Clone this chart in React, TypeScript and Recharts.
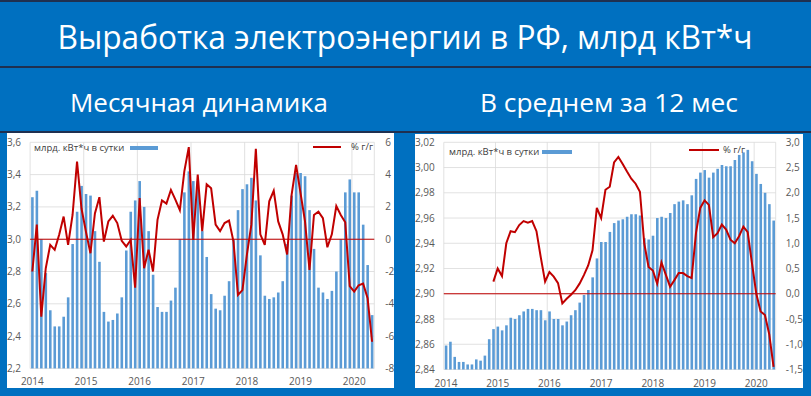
import React from "react"
import { ComposedChart, Bar, Line, XAxis, YAxis, CartesianGrid, ReferenceLine } from "recharts"

// month index 0 = Jan 2014 ... 76 = May 2020
const yearLabels = ["2014", "2015", "2016", "2017", "2018", "2019", "2020"]
const yearStarts = [-0.5, 11.5, 23.5, 35.5, 47.5, 59.5, 71.5]

// monthly generation, bn kWh per day
const monthlyGen = [
  3.26, 3.30, 3.00, 2.79, 2.56, 2.46, 2.46, 2.52, 2.64, 2.97, 3.17, 3.33,
  3.28, 3.27, 3.05, 2.86, 2.55, 2.49, 2.50, 2.54, 2.64, 2.93, 3.17, 3.24,
  3.36, 3.20, 3.05, 2.78, 2.58, 2.55, 2.55, 2.62, 2.70, 3.00, 3.29, 3.42,
  3.36, 3.36, 3.05, 2.89, 2.66, 2.57, 2.56, 2.65, 2.74, 3.00, 3.18, 3.31,
  3.34, 3.38, 3.24, 2.90, 2.65, 2.63, 2.64, 2.67, 2.74, 2.97, 3.27, 3.41,
  3.41, 3.39, 3.18, 2.94, 2.70, 2.67, 2.63, 2.68, 2.80, 3.00, 3.29, 3.37,
  3.29, 3.29, 3.09, 2.84, 2.53,
]
// monthly % y/y
const monthlyYoy = [
  -2.0, 0.9, -4.8, -1.8, -0.35, -0.66, 0.27, 1.4, -0.35, 1.5, 4.8, 1.9,
  0.45, -0.87, 1.6, 2.6, -0.15, 1.1, 1.45, 1.0, -0.1, -0.45, -0.05, -3.0,
  2.55, -1.8, -0.65, -2.0, 1.2, 2.4, 2.2, 3.05, 2.45, 1.8, 4.2, 5.7,
  -0.05, 4.0, 0.5, 3.4, 3.15, 0.9, 0.5, 1.0, 1.15, -0.15, -3.45, -3.15,
  -0.95, 0.9, 5.6, 0.3, -0.35, 2.35, 3.0, 1.1, 0.3, -0.95, 2.75, 4.6,
  2.85, 1.1, -1.9, 1.5, 1.7, 1.3, -0.5, 0.3, 2.05, 1.5, 1.05, -2.9,
  -3.25, -2.85, -2.75, -3.65, -6.35,
]
// 12-month average, bn kWh per day
const avgGen = [
  2.859, 2.862, 2.850, 2.846, 2.846, 2.844, 2.844, 2.848, 2.847, 2.851, 2.864, 2.872,
  2.874, 2.871, 2.875, 2.881, 2.880, 2.883, 2.886, 2.888, 2.888, 2.887, 2.887, 2.879,
  2.886, 2.880, 2.880, 2.875, 2.878, 2.883, 2.887, 2.893, 2.899, 2.903, 2.913, 2.928,
  2.941, 2.941, 2.949, 2.956, 2.958, 2.959, 2.961, 2.963, 2.963, 2.962, 2.944, 2.943,
  2.946, 2.960, 2.961, 2.960, 2.964, 2.971, 2.973, 2.974, 2.971, 2.978, 2.991, 2.996,
  2.998, 2.992, 2.996, 2.999, 3.002, 3.001, 3.001, 3.006, 3.010, 3.012, 3.014, 3.005,
  2.995, 2.987, 2.980, 2.971, 2.958,
]
// 12-month average % y/y (starts Dec 2014)
const avgYoy = [
  null, null, null, null, null, null, null, null, null, null, null, 0.24,
  0.5, 0.35, 1.0, 1.24, 1.22, 1.36, 1.44, 1.41, 1.44, 1.24, 0.72, 0.24,
  0.43, 0.34, 0.21, -0.19, -0.1, -0.02, 0.07, 0.2, 0.37, 0.56, 0.86, 1.7,
  1.5, 2.06, 2.12, 2.6, 2.71, 2.57, 2.42, 2.28, 2.18, 2.02, 1.0, 0.53,
  0.46, 0.2, 0.62, 0.38, 0.14, 0.27, 0.41, 0.41, 0.35, 0.31, 1.2, 1.7,
  1.85, 1.76, 1.12, 1.2, 1.37, 1.27, 1.07, 1.0, 1.14, 1.33, 1.22, 0.6,
  0.0, -0.35, -0.42, -0.8, -1.45,
]

const leftTicksMonthly = [2.2, 2.4, 2.6, 2.8, 3.0, 3.2, 3.4, 3.6]
const rightTicksMonthly = [-8, -6, -4, -2, 0, 2, 4, 6]
const leftTicksAvg = [2.84, 2.86, 2.88, 2.90, 2.92, 2.94, 2.96, 2.98, 3.00, 3.02]
const rightTicksAvg = [-1.5, -1.0, -0.5, 0.0, 0.5, 1.0, 1.5, 2.0, 2.5, 3.0]

const monthlyData = monthlyGen.map((gen, i) => ({ idx: i, gen, yoy: monthlyYoy[i] }))
const avgData = avgGen.map((gen, i) => ({ idx: i, gen, yoy: avgYoy[i] }))

const BLUE = "#0070C0"
const NAVY = "#1F3050"
const BAR = "#5B9BD5"
const RED = "#C00000"
const GRAY = "#595959"
const FONT = "'Open Sans', sans-serif"

function YearTick(props: any) {
  const { x, y, payload, half } = props
  const k = Math.round((payload.value + 0.5) / 12)
  return (
    <text x={x + half} y={y + 15} textAnchor="middle" fontSize={10} fill={GRAY} fontFamily={FONT}>
      {yearLabels[k]}
    </text>
  )
}

const comma = (d: number) => (v: number) => v.toFixed(d).replace(".", ",")

interface PanelProps {
  data: { idx: number; gen: number; yoy: number | null }[]
  width: number
  height: number
  plotLeft: number
  plotTop: number
  plotW: number
  plotH: number
  leftTicks: number[]
  rightTicks: number[]
  leftDigits: number
  rightDigits: number
  leftMargin: number
  rightMargin: number
}

function Panel(p: PanelProps) {
  const half = p.plotW / p.data.length / 2
  return (
    <ComposedChart
      width={p.width}
      height={p.height}
      data={p.data}
      margin={{ top: p.plotTop, right: 0, bottom: 0, left: 0 }}
    >
      <CartesianGrid stroke="#D9D9D9" strokeWidth={0.8} yAxisId="left" />
      <XAxis
        type="number"
        dataKey="idx"
        domain={[-0.5, p.data.length - 0.5]}
        ticks={yearStarts}
        interval={0}
        axisLine={false}
        tickLine={false}
        tickSize={0}
        height={p.height - p.plotTop - p.plotH}
        tick={<YearTick half={half} />}
      />
      <YAxis
        yAxisId="left"
        domain={[p.leftTicks[0], p.leftTicks[p.leftTicks.length - 1]]}
        ticks={p.leftTicks}
        interval={0}
        width={p.plotLeft}
        axisLine={false}
        tickLine={false}
        tickSize={0}
        tickMargin={p.leftMargin}
        tickFormatter={comma(p.leftDigits)}
        tick={{ fill: GRAY, fontSize: 10, fontFamily: FONT }}
      />
      <YAxis
        yAxisId="right"
        orientation="right"
        domain={[p.rightTicks[0], p.rightTicks[p.rightTicks.length - 1]]}
        ticks={p.rightTicks}
        interval={0}
        width={p.width - p.plotLeft - p.plotW}
        axisLine={false}
        tickLine={false}
        tickSize={0}
        tickMargin={p.rightMargin}
        tickFormatter={comma(p.rightDigits)}
        tick={{ fill: GRAY, fontSize: 10, fontFamily: FONT }}
      />
      <Bar yAxisId="left" dataKey="gen" fill={BAR} barSize={2.6} isAnimationActive={false} />
      <ReferenceLine yAxisId="right" y={0} stroke={RED} strokeWidth={1.1} />
      <Line
        yAxisId="right"
        dataKey="yoy"
        type="linear"
        stroke={RED}
        strokeWidth={2}
        dot={false}
        isAnimationActive={false}
      />
    </ComposedChart>
  )
}

const legendText: React.CSSProperties = {
  position: "absolute",
  fontFamily: FONT,
  fontSize: 9.5,
  color: "#404040",
  lineHeight: "12px",
  whiteSpace: "nowrap",
}

export default function App() {
  return (
    <div style={{ position: "absolute", left: 0, top: 0, width: 811, height: 396, background: BLUE, overflow: "hidden" }}>
      <div style={{ position: "absolute", left: 0, top: 0, width: 811, height: 2, background: NAVY }} />
      <div style={{ position: "absolute", left: 0, top: 66, width: 811, height: 2, background: NAVY }} />
      <div style={{ position: "absolute", left: 0, top: 131, width: 811, height: 1.5, background: NAVY }} />

      <svg width={811} height={130} style={{ position: "absolute", left: 0, top: 0 }}>
        <text x={405} y={49} textAnchor="middle" fill="#fff" fontFamily={FONT} fontSize={32} textLength={695} lengthAdjust="spacingAndGlyphs">
          Выработка электроэнергии в РФ, млрд кВт*ч
        </text>
        <text x={199} y={112} textAnchor="middle" fill="#fff" fontFamily={FONT} fontSize={26} textLength={258} lengthAdjust="spacingAndGlyphs">
          Месячная динамика
        </text>
        <text x={609} y={112} textAnchor="middle" fill="#fff" fontFamily={FONT} fontSize={26} textLength={258} lengthAdjust="spacingAndGlyphs">
          В среднем за 12 мес
        </text>
      </svg>

      {/* monthly panel */}
      <div style={{ position: "absolute", left: 7, top: 133, width: 387, height: 255, background: "#fff" }}>
        <Panel
          data={monthlyData}
          width={387}
          height={255}
          plotLeft={23.1}
          plotTop={9.3}
          plotW={344.2}
          plotH={226.1}
          leftTicks={leftTicksMonthly}
          rightTicks={rightTicksMonthly}
          leftDigits={1}
          rightDigits={0}
          leftMargin={9}
          rightMargin={11}
        />
        <div style={{ ...legendText, left: 27, top: 9 }}>млрд. кВт*ч в сутки</div>
        <div style={{ position: "absolute", left: 123, top: 13, width: 28, height: 4, background: BAR }} />
        <div style={{ position: "absolute", left: 306, top: 13, width: 28, height: 2, background: RED }} />
        <div style={{ ...legendText, left: 344, top: 8 }}>% г/г</div>
      </div>

      {/* 12-month average panel */}
      <div style={{ position: "absolute", left: 415, top: 134, width: 388, height: 254, background: "#fff" }}>
        <Panel
          data={avgData}
          width={388}
          height={254}
          plotLeft={28.8}
          plotTop={8.3}
          plotW={331.9}
          plotH={227.2}
          leftTicks={leftTicksAvg}
          rightTicks={rightTicksAvg}
          leftDigits={2}
          rightDigits={1}
          leftMargin={9}
          rightMargin={10}
        />
        <div style={{ ...legendText, left: 34, top: 12 }}>млрд. кВт*ч в сутки</div>
        <div style={{ position: "absolute", left: 127, top: 16, width: 30, height: 4, background: BAR }} />
        <div style={{ position: "absolute", left: 274, top: 15, width: 30, height: 2, background: RED }} />
        <div style={{ ...legendText, left: 308, top: 10 }}>% г/г</div>
      </div>
    </div>
  )
}
